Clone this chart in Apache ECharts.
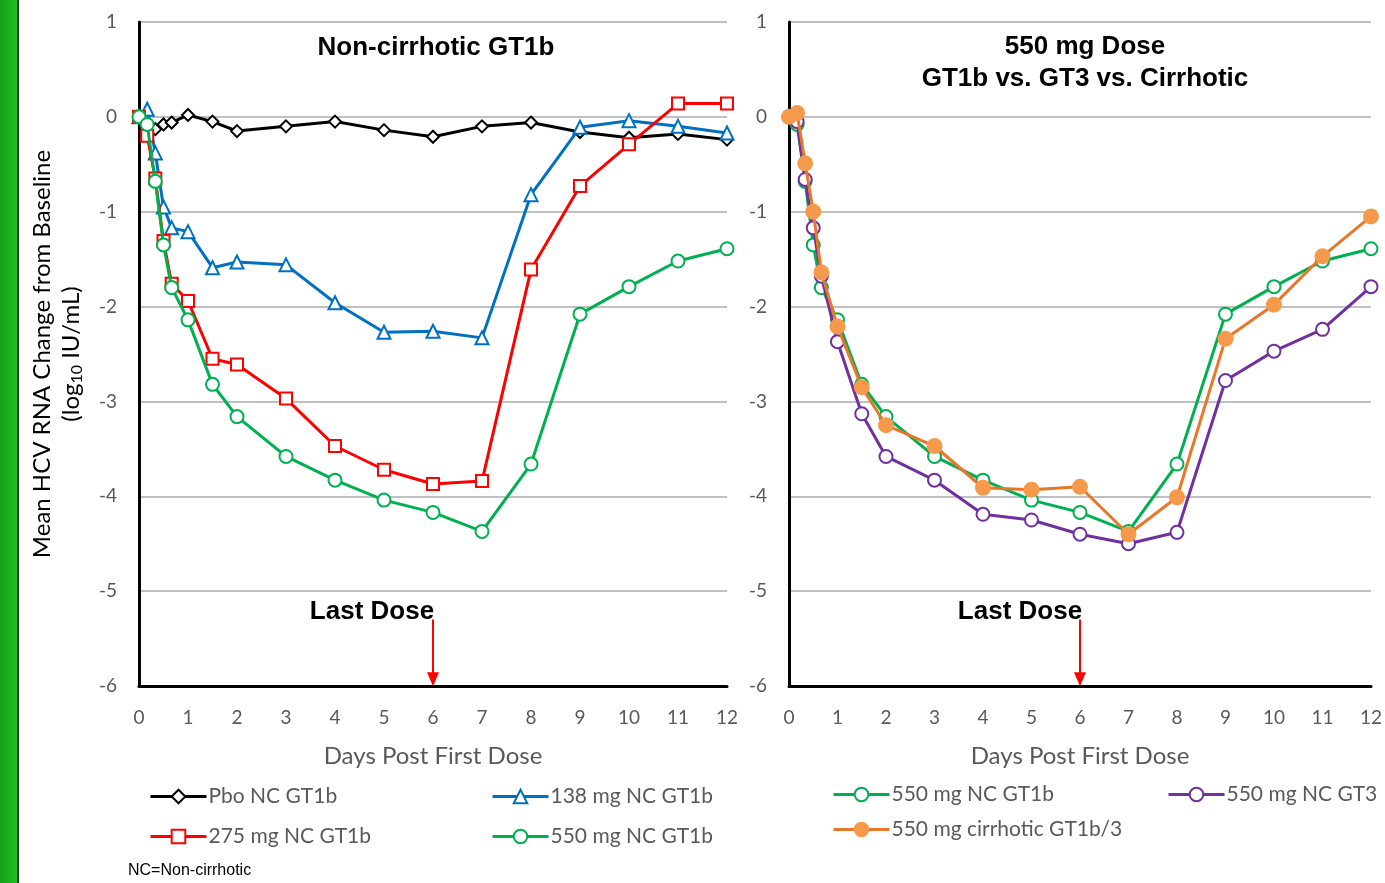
<!DOCTYPE html>
<html>
<head>
<meta charset="utf-8">
<script src="https://cdn.jsdelivr.net/npm/echarts@6/dist/echarts.min.js"></script>
<style>
html,body{margin:0;padding:0;background:#fff;}
#c{width:1385px;height:883px;}
</style>
</head>
<body>
<div id="c"></div>
<script>
// ---- data ----
const days = [0, 0.167, 0.333, 0.5, 0.667, 1, 1.5, 2, 3, 4, 5, 6, 7, 8, 9, 10, 11, 12];
const xTicks = [0,1,2,3,4,5,6,7,8,9,10,11,12];
const yTicks = [1,0,-1,-2,-3,-4,-5,-6];
const pboNC1b   = [0, -0.1, -0.13, -0.08, -0.06, 0.02, -0.05, -0.15, -0.1, -0.05, -0.14, -0.21, -0.1, -0.06, -0.16, -0.22, -0.18, -0.24];
const mg138NC1b = [0, 0.08, -0.38, -0.95, -1.17, -1.21, -1.59, -1.53, -1.56, -1.96, -2.27, -2.26, -2.33, -0.82, -0.11, -0.04, -0.1, -0.17];
const mg275NC1b = [0, -0.2, -0.65, -1.31, -1.76, -1.94, -2.55, -2.61, -2.97, -3.47, -3.72, -3.87, -3.84, -1.61, -0.73, -0.29, 0.14, 0.14];
const mg550NC1b = [0, -0.08, -0.68, -1.35, -1.8, -2.14, -2.82, -3.16, -3.58, -3.83, -4.04, -4.17, -4.37, -3.66, -2.08, -1.79, -1.52, -1.39];
const mg550NC3  = [0, -0.05, -0.66, -1.17, -1.68, -2.37, -3.13, -3.58, -3.83, -4.19, -4.25, -4.4, -4.5, -4.38, -2.78, -2.47, -2.24, -1.79];
const mg550Cirr = [0, 0.04, -0.49, -1.0, -1.64, -2.21, -2.85, -3.25, -3.47, -3.91, -3.93, -3.9, -4.4, -4.01, -2.34, -1.98, -1.47, -1.05];
const lastDoseDay = 6;
const names = {
  pbo: 'Pbo NC GT1b', m138: '138 mg NC GT1b', m275: '275 mg NC GT1b',
  m550: '550 mg NC GT1b', m550g3: '550 mg NC GT3', cirr: '550 mg cirrhotic GT1b/3'
};

const pairs = v => days.map((d, i) => [d, v[i]]);
const FONT = 'Lato, "Open Sans", sans-serif';
const AX = 'Arial, "Liberation Sans", sans-serif';

function xAxisCfg(gi){
  return {
    type:'value', gridIndex:gi, min:0, max:12, interval:1,
    name:'Days Post First Dose', nameLocation:'middle', nameGap:58,
    nameTextStyle:{fontFamily:FONT, fontSize:24, color:'#595959'},
    axisLine:{show:true, onZero:false, lineStyle:{color:'#000', width:3}},
    axisTick:{show:false},
    axisLabel:{fontFamily:FONT, fontSize:19, color:'#595959', margin:22,
      formatter: v => xTicks.includes(v) ? String(v) : ''},
    splitLine:{show:false}
  };
}
function yAxisCfg(gi){
  return {
    type:'value', gridIndex:gi, min:-6, max:1, interval:1,
    axisLine:{show:true, onZero:false, lineStyle:{color:'#000', width:3}},
    axisTick:{show:false},
    axisLabel:{fontFamily:FONT, fontSize:19, color:'#595959', margin:22,
      formatter: v => yTicks.includes(v) ? String(v) : ''},
    splitLine:{show:true, lineStyle:{color:'#C0C0C0', width:2}}
  };
}
function lineSeries(name, data, gi, color, symbol, size, fill, lineColor, z){
  return {
    type:'line', name, data:pairs(data), xAxisIndex:gi, yAxisIndex:gi,
    symbol, symbolSize:size, showAllSymbol:true, z:z,
    lineStyle:{color: lineColor || color, width:3},
    itemStyle:{color: fill, borderColor: color, borderWidth:2},
    emphasis:{disabled:true}, animation:false
  };
}

function arrowMark(){
  return {
    silent:true, animation:false,
    symbol:['none','triangle'], symbolSize:[12,14],
    lineStyle:{color:'#FF0000', width:2, type:'solid'},
    label:{show:false},
    data:[[{coord:[lastDoseDay,-5.3]},{coord:[lastDoseDay,-5.93]}]]
  };
}

const chart = echarts.init(document.getElementById('c'), null, {renderer:'canvas'});

const series = [
  lineSeries(names.pbo, pboNC1b, 0, '#000000', 'diamond', 12, '#ffffff', null, 3),
  lineSeries(names.m138, mg138NC1b, 0, '#0070C0', 'triangle', 13, '#ffffff', null, 4),
  lineSeries(names.m275, mg275NC1b, 0, '#FF0000', 'rect', 12, '#ffffff', null, 5),
  lineSeries(names.m550, mg550NC1b, 0, '#00B050', 'circle', 13, '#ffffff', null, 6),
  lineSeries(names.m550, mg550NC1b, 1, '#00B050', 'circle', 13, '#ffffff', null, 3),
  lineSeries(names.m550g3, mg550NC3, 1, '#7030A0', 'circle', 13, '#ffffff', null, 4),
  lineSeries(names.cirr, mg550Cirr, 1, '#F59A4C', 'circle', 14, '#F59A4C', '#E8772A', 5)
];
series[0].markLine = arrowMark();
series[4].markLine = arrowMark();

function legendAt(name, left, top){
  return {
    data:[name], left, top, orient:'horizontal',
    itemWidth:56, itemHeight:17, itemGap:0, padding:0,
    selectedMode:false,
    lineStyle:{width:3},
    textStyle:{fontFamily:FONT, fontSize:21, color:'#595959', padding:[0,0,0,-3]}
  };
}

const option = {
  backgroundColor:'#ffffff',
  animation:false,
  grid:[
    {left:139, right:658, top:22, bottom:197, containLabel:false},
    {left:789, right:8, top:22, bottom:197, containLabel:false}
  ],
  xAxis:[xAxisCfg(0), xAxisCfg(1)],
  yAxis:[yAxisCfg(0), yAxisCfg(1)],
  legend:[
    legendAt(names.pbo, 149, 786),
    legendAt(names.m138, 491, 786),
    legendAt(names.m275, 149, 826),
    legendAt(names.m550, 491, 826),
    legendAt(names.m550, 832, 784),
    legendAt(names.m550g3, 1167, 784),
    legendAt(names.cirr, 832, 819)
  ],
  series,
  graphic:[
    {type:'rect', left:0, top:0, shape:{width:17, height:883},
     style:{fill:new echarts.graphic.LinearGradient(0,0,1,0,[{offset:0,color:'#17A017'},{offset:1,color:'#22BB22'}])}, silent:true},
    {type:'rect', left:17, top:0, shape:{width:2, height:883}, style:{fill:'#0f3d0f'}, silent:true},
    {type:'text', x:436, y:48, style:{text:'Non-cirrhotic GT1b', font:'bold 26px '+AX, fill:'#000', textAlign:'center', textVerticalAlign:'middle'}},
    {type:'text', x:1085, y:47, style:{text:'550 mg Dose', font:'bold 26px '+AX, fill:'#000', textAlign:'center', textVerticalAlign:'middle'}},
    {type:'text', x:1085, y:79, style:{text:'GT1b vs. GT3 vs. Cirrhotic', font:'bold 26px '+AX, fill:'#000', textAlign:'center', textVerticalAlign:'middle'}},
    {type:'text', x:372, y:612, style:{text:'Last Dose', font:'bold 26px '+AX, fill:'#000', textAlign:'center', textVerticalAlign:'middle'}},
    {type:'text', x:1020, y:612, style:{text:'Last Dose', font:'bold 26px '+AX, fill:'#000', textAlign:'center', textVerticalAlign:'middle'}},
    {type:'text', x:42, y:354, rotation:Math.PI/2, style:{text:'Mean HCV RNA Change from Baseline', font:'24px '+FONT, fill:'#000', textAlign:'center', textVerticalAlign:'middle'}},
    {type:'text', x:71, y:354, rotation:Math.PI/2,
     style:{text:'{a|(log}{s|10}{a| IU/mL)}', textAlign:'center', textVerticalAlign:'middle',
       rich:{a:{font:'24px '+FONT, fill:'#000'}, s:{font:'16px '+FONT, fill:'#000', padding:[11,0,0,0]}}}},
    {type:'text', x:128, y:871, style:{text:'NC=Non-cirrhotic', font:'16px '+AX, fill:'#000', textAlign:'left', textVerticalAlign:'middle'}}
  ]
};
chart.setOption(option);
</script>
</body>
</html>
